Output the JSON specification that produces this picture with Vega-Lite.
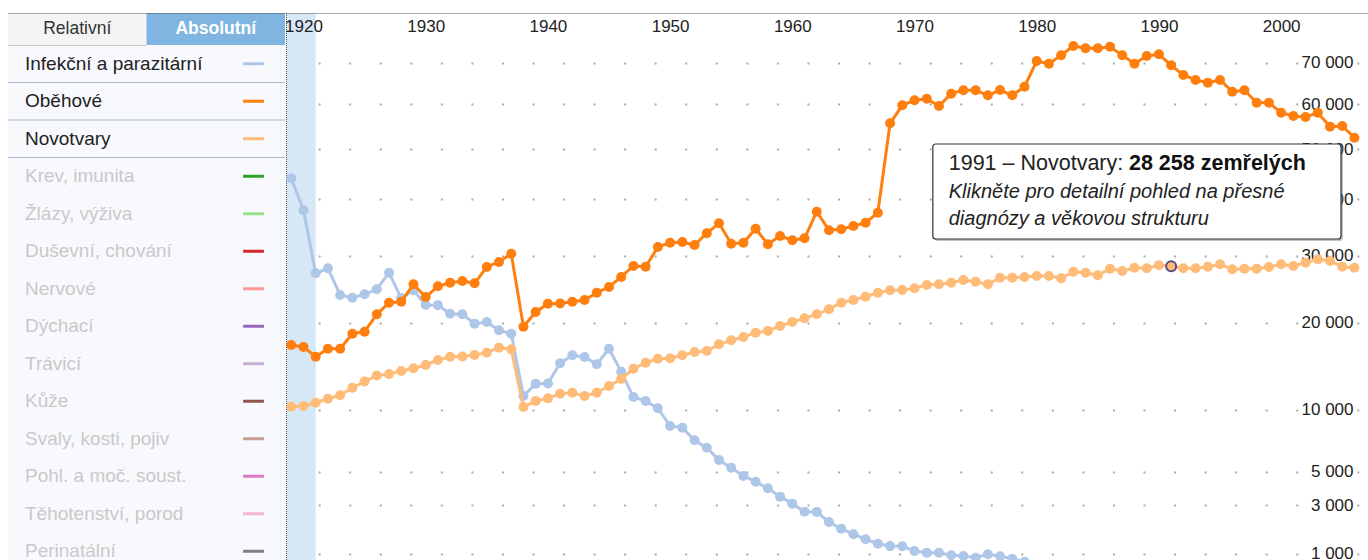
{
  "$schema": "https://vega.github.io/schema/vega-lite/v6.json",
  "background": "white",
  "padding": {"left": 0, "top": 12, "right": 0, "bottom": 0},
  "spacing": -3,
  "config": {"view": {"stroke": null}, "font": "Liberation Sans"},
  "resolve": {"scale": {"x": "independent", "y": "independent"}},
  "datasets": {
    "series": [
      {"year":1919,"inf":44040,"obe":17100,"nov":10300},
      {"year":1920,"inf":37900,"obe":16850,"nov":10370},
      {"year":1921,"inf":27150,"obe":15680,"nov":10690},
      {"year":1922,"inf":27940,"obe":16640,"nov":11080},
      {"year":1923,"inf":23870,"obe":16640,"nov":11430},
      {"year":1924,"inf":23470,"obe":18530,"nov":12210},
      {"year":1925,"inf":23970,"obe":18790,"nov":12870},
      {"year":1926,"inf":24710,"obe":21120,"nov":13520},
      {"year":1927,"inf":27250,"obe":22750,"nov":13690},
      {"year":1928,"inf":23380,"obe":22890,"nov":14020},
      {"year":1929,"inf":24560,"obe":25460,"nov":14330},
      {"year":1930,"inf":22420,"obe":23570,"nov":14710},
      {"year":1931,"inf":22400,"obe":25160,"nov":15290},
      {"year":1932,"inf":21200,"obe":25700,"nov":15680},
      {"year":1933,"inf":21120,"obe":25960,"nov":15700},
      {"year":1934,"inf":19840,"obe":25610,"nov":15880},
      {"year":1935,"inf":20070,"obe":28150,"nov":16160},
      {"year":1936,"inf":18970,"obe":28950,"nov":16770},
      {"year":1937,"inf":18530,"obe":30300,"nov":16570},
      {"year":1938,"inf":11360,"obe":19440,"nov":10270},
      {"year":1939,"inf":12630,"obe":21440,"nov":10860},
      {"year":1940,"inf":12650,"obe":22610,"nov":11120},
      {"year":1941,"inf":14900,"obe":22650,"nov":11590},
      {"year":1942,"inf":15840,"obe":22890,"nov":11690},
      {"year":1943,"inf":15640,"obe":23140,"nov":11360},
      {"year":1944,"inf":14790,"obe":24200,"nov":11700},
      {"year":1945,"inf":16640,"obe":25050,"nov":12390},
      {"year":1946,"inf":13950,"obe":26580,"nov":13140},
      {"year":1947,"inf":11250,"obe":28310,"nov":14280},
      {"year":1948,"inf":10860,"obe":28190,"nov":14970},
      {"year":1949,"inf":10150,"obe":31420,"nov":15440},
      {"year":1950,"inf":8530,"obe":32150,"nov":15500},
      {"year":1951,"inf":8380,"obe":32270,"nov":15840},
      {"year":1952,"inf":7320,"obe":31760,"nov":16240},
      {"year":1953,"inf":6730,"obe":33770,"nov":16360},
      {"year":1954,"inf":5810,"obe":35530,"nov":17190},
      {"year":1955,"inf":5260,"obe":31980,"nov":17690},
      {"year":1956,"inf":4710,"obe":32150,"nov":18110},
      {"year":1957,"inf":4340,"obe":34570,"nov":18660},
      {"year":1958,"inf":3940,"obe":31880,"nov":18880},
      {"year":1959,"inf":3460,"obe":33300,"nov":19540},
      {"year":1960,"inf":3080,"obe":32560,"nov":20070},
      {"year":1961,"inf":2670,"obe":32900,"nov":20570},
      {"year":1962,"inf":2660,"obe":37640,"nov":21120},
      {"year":1963,"inf":2190,"obe":34290,"nov":21820},
      {"year":1964,"inf":1900,"obe":34470,"nov":22750},
      {"year":1965,"inf":1680,"obe":35050,"nov":23140},
      {"year":1966,"inf":1490,"obe":35640,"nov":23620},
      {"year":1967,"inf":1330,"obe":37450,"nov":24200},
      {"year":1968,"inf":1250,"obe":55670,"nov":24560},
      {"year":1969,"inf":1245,"obe":59770,"nov":24600},
      {"year":1970,"inf":1090,"obe":60940,"nov":24860},
      {"year":1971,"inf":1040,"obe":61310,"nov":25350},
      {"year":1972,"inf":1035,"obe":59610,"nov":25460},
      {"year":1973,"inf":960,"obe":62500,"nov":25700},
      {"year":1974,"inf":940,"obe":63300,"nov":26110},
      {"year":1975,"inf":890,"obe":63310,"nov":25850},
      {"year":1976,"inf":990,"obe":62120,"nov":25460},
      {"year":1977,"inf":935,"obe":63370,"nov":26470},
      {"year":1978,"inf":860,"obe":62110,"nov":26460},
      {"year":1979,"inf":780,"obe":64170,"nov":26580},
      {"year":1980,"inf":700,"obe":70490,"nov":26730},
      {"year":1981,"obe":69810,"nov":26730},
      {"year":1982,"obe":71940,"nov":26380},
      {"year":1983,"obe":74320,"nov":27400},
      {"year":1984,"obe":73730,"nov":27250},
      {"year":1985,"obe":73720,"nov":26840},
      {"year":1986,"obe":74140,"nov":27880},
      {"year":1987,"obe":71940,"nov":27510},
      {"year":1988,"obe":69810,"nov":28030},
      {"year":1989,"obe":71760,"nov":27940},
      {"year":1990,"obe":72190,"nov":28420},
      {"year":1991,"obe":69410,"nov":28258},
      {"year":1992,"obe":67010,"nov":27940},
      {"year":1993,"obe":65790,"nov":27950},
      {"year":1994,"obe":65130,"nov":28190},
      {"year":1995,"obe":65790,"nov":28580},
      {"year":1996,"obe":62970,"nov":27780},
      {"year":1997,"obe":63300,"nov":27880},
      {"year":1998,"obe":60380,"nov":27870},
      {"year":1999,"obe":60370,"nov":28150},
      {"year":2000,"obe":58070,"nov":28580},
      {"year":2001,"obe":57320,"nov":28310},
      {"year":2002,"obe":57090,"nov":28840},
      {"year":2003,"obe":58070,"nov":29380},
      {"year":2004,"obe":54910,"nov":29110},
      {"year":2005,"obe":55070,"nov":28190},
      {"year":2006,"obe":52490,"nov":28030}
    ],
    "legend": [
      {"label":"Infekční a parazitární","active":true},
      {"label":"Oběhové","active":true},
      {"label":"Novotvary","active":true},
      {"label":"Krev, imunita","active":false},
      {"label":"Žlázy, výživa","active":false},
      {"label":"Duševní, chování","active":false},
      {"label":"Nervové","active":false},
      {"label":"Dýchací","active":false},
      {"label":"Trávicí","active":false},
      {"label":"Kůže","active":false},
      {"label":"Svaly, kosti, pojiv","active":false},
      {"label":"Pohl. a moč. soust.","active":false},
      {"label":"Těhotenství, porod","active":false},
      {"label":"Perinatální","active":false}
    ],
    "buttons": [
      {"label":"Relativní","selected":false},
      {"label":"Absolutní","selected":true}
    ]
  },
  "hconcat": [
    {
      "spacing": 0,
      "resolve": {"scale": {"x": "independent", "y": "independent"}},
      "vconcat": [
        {
          "width": 285,
          "height": 32,
          "data": {"name": "buttons"},
          "layer": [
            {
              "mark": {"type": "rect"},
              "encoding": {
                "x": {"field": "label", "type": "nominal", "sort": null,
                      "scale": {"domain": ["Relativní", "Absolutní"], "range": [8, 285], "paddingInner": 0, "paddingOuter": 0},
                      "axis": {"orient": "top", "title": null, "labels": false, "ticks": false, "tickSize": 0, "domain": true, "domainDash": [1, 1], "domainColor": "#555", "zindex": 1}},
                "color": {"condition": {"test": "datum.selected", "value": "#80b5e2"}, "value": "#f4f4f4"}
              }
            },
            {
              "transform": [{"filter": "!datum.selected"}],
              "mark": {"type": "text", "fontSize": 17.5, "color": "#333"},
              "encoding": {"x": {"field": "label", "type": "nominal", "sort": null}, "text": {"field": "label"}}
            },
            {
              "transform": [{"filter": "datum.selected"}],
              "mark": {"type": "text", "fontSize": 17.5, "fontWeight": "bold", "color": "white"},
              "encoding": {"x": {"field": "label", "type": "nominal", "sort": null}, "text": {"field": "label"}}
            }
          ]
        },
        {
          "width": 285,
          "height": 516,
          "data": {"name": "legend"},
          "layer": [
            {
              "data": {"values": [{}]},
              "mark": {"type": "rect", "color": "#f7f9fc"},
              "encoding": {
                "x": {"datum": 0.028, "type": "quantitative", "scale": {"domain": [0, 1], "nice": false, "zero": false}, "axis": null},
                "x2": {"datum": 1}
              }
            },
            {
              "transform": [{"filter": "datum.active"}],
              "mark": {"type": "rule", "color": "#a9bccd", "strokeWidth": 1, "yOffset": 18.75},
              "encoding": {
                "x": {"datum": 0.028, "type": "quantitative"},
                "x2": {"datum": 1},
                "y": {"field": "label", "type": "nominal", "sort": null,
                      "scale": {"type": "point", "domain": ["Infekční a parazitární","Oběhové","Novotvary","Krev, imunita","Žlázy, výživa","Duševní, chování","Nervové","Dýchací","Trávicí","Kůže","Svaly, kosti, pojiv","Pohl. a moč. soust.","Těhotenství, porod","Perinatální"], "range": [18.75, 506.25], "padding": 0},
                      "axis": null}
              }
            },
            {
              "transform": [{"filter": "datum.label === 'Infekční a parazitární'"}],
              "mark": {"type": "rule", "color": "#c4c4c4", "strokeWidth": 1, "yOffset": -18.25},
              "encoding": {
                "x": {"datum": 0.028, "type": "quantitative"},
                "x2": {"datum": 0.512},
                "y": {"field": "label", "type": "nominal", "sort": null}
              }
            },
            {
              "mark": {"type": "text", "align": "left", "baseline": "middle", "fontSize": 19},
              "encoding": {
                "x": {"datum": 0.0877, "type": "quantitative"},
                "y": {"field": "label", "type": "nominal", "sort": null},
                "text": {"field": "label"},
                "color": {"condition": {"test": "datum.active", "value": "#222"}, "value": "#c9c9c9"}
              }
            },
            {
              "mark": {"type": "rule", "strokeWidth": 3},
              "encoding": {
                "x": {"datum": 0.853, "type": "quantitative"},
                "x2": {"datum": 0.926},
                "y": {"field": "label", "type": "nominal", "sort": null},
                "color": {"field": "label", "type": "nominal", "legend": null,
                          "scale": {"domain": ["Infekční a parazitární","Oběhové","Novotvary","Krev, imunita","Žlázy, výživa","Duševní, chování","Nervové","Dýchací","Trávicí","Kůže","Svaly, kosti, pojiv","Pohl. a moč. soust.","Těhotenství, porod","Perinatální"],
                                    "range": ["#aec7e8","#ff7f0e","#ffbb78","#2ca02c","#98df8a","#d62728","#ff9896","#9467bd","#c5b0d5","#8c564b","#c49c94","#e377c2","#f7b6d2","#7f7f7f"]}}
              }
            }
          ]
        }
      ]
    },
    {
      "width": 1083,
      "height": 548,
      "data": {"name": "series"},
      "layer": [
        {
          "data": {"values": [{}]},
          "mark": {"type": "rect", "color": "#d6e7f6"},
          "encoding": {
            "x": {"datum": 1918.57, "type": "quantitative",
                  "scale": {"domain": [1918.57, 2007.19], "nice": false, "zero": false},
                  "axis": {"orient": "top", "values": [1920,1930,1940,1950,1960,1970,1980,1990,2000], "format": "d", "title": null,
                           "ticks": false, "tickSize": 0, "labelPadding": -13, "labelBaseline": "middle", "labelFontSize": 17,
                           "labelColor": "#222", "labelFlush": false, "labelOverlap": false, "grid": false,
                           "domain": true, "domainDash": [1, 1], "domainColor": "#555", "zindex": 1}},
            "x2": {"datum": 1921.0}
          }
        },
        {
          "data": {"values": [{}]},
          "mark": {"type": "rule", "color": "#555", "strokeDash": [1, 1], "strokeWidth": 1},
          "encoding": {"x": {"datum": 1918.61, "type": "quantitative"}}
        },
        {
          "mark": {"type": "line", "color": "#aec7e8", "strokeWidth": 3, "clip": true,
                   "point": {"filled": true, "size": 100, "color": "#aec7e8", "opacity": 1}},
          "encoding": {
            "x": {"field": "year", "type": "quantitative"},
            "y": {"field": "inf", "type": "quantitative",
                  "scale": {"type": "sqrt", "domain": [800, 83100], "nice": false, "zero": false},
                  "axis": {"orient": "right", "values": [1000,3000,5000,10000,20000,30000,40000,50000,60000,70000], "title": null,
                           "ticks": false, "tickSize": 0, "domain": false, "labelAlign": "right", "labelPadding": -16,
                           "labelBaseline": "middle", "labelFontSize": 17, "labelColor": "#222", "labelOverlap": false, "labelFlush": false,
                           "labelExpr": "replace(format(datum.value, ','), ',', ' ')",
                           "grid": true, "gridDash": [2, 28.55], "gridDashOffset": 20.4, "gridColor": "#aaaaaa", "gridWidth": 2}}
          }
        },
        {
          "mark": {"type": "line", "color": "#ffbb78", "strokeWidth": 3,
                   "point": {"filled": true, "size": 100, "color": "#ffbb78", "opacity": 1}},
          "encoding": {
            "x": {"field": "year", "type": "quantitative"},
            "y": {"field": "nov", "type": "quantitative"}
          }
        },
        {
          "mark": {"type": "line", "color": "#ff7f0e", "strokeWidth": 3,
                   "point": {"filled": true, "size": 100, "color": "#ff7f0e", "opacity": 1}},
          "encoding": {
            "x": {"field": "year", "type": "quantitative"},
            "y": {"field": "obe", "type": "quantitative"}
          }
        },
        {
          "transform": [{"filter": "datum.year === 1991"}],
          "mark": {"type": "point", "filled": true, "fill": "#ffbb78", "stroke": "#5b4b8b", "strokeWidth": 2, "size": 100, "opacity": 1},
          "encoding": {
            "x": {"field": "year", "type": "quantitative"},
            "y": {"field": "nov", "type": "quantitative"}
          }
        },
        {
          "data": {"values": [{}]},
          "mark": {"type": "rect", "color": "#777", "opacity": 0.45, "cornerRadius": 3, "xOffset": 2, "x2Offset": 2, "yOffset": 2, "y2Offset": 2},
          "encoding": {
            "x": {"datum": 1971.5, "type": "quantitative"}, "x2": {"datum": 2004.9},
            "y": {"datum": 51130, "type": "quantitative"}, "y2": {"datum": 32780}
          }
        },
        {
          "data": {"values": [{}]},
          "mark": {"type": "rect", "fill": "white", "stroke": "#333", "strokeWidth": 1.2, "cornerRadius": 3},
          "encoding": {
            "x": {"datum": 1971.5, "type": "quantitative"}, "x2": {"datum": 2004.9},
            "y": {"datum": 51130, "type": "quantitative"}, "y2": {"datum": 32780}
          }
        },
        {
          "data": {"values": [{}]},
          "mark": {"type": "text", "align": "left", "baseline": "middle", "fontSize": 21.5, "color": "#222", "text": "1991 – Novotvary: "},
          "encoding": {"x": {"datum": 1972.8, "type": "quantitative"}, "y": {"datum": 46930, "type": "quantitative"}}
        },
        {
          "data": {"values": [{}]},
          "mark": {"type": "text", "align": "left", "baseline": "middle", "fontSize": 21.5, "fontWeight": "bold", "color": "#111", "text": "28 258 zemřelých"},
          "encoding": {"x": {"datum": 1987.55, "type": "quantitative"}, "y": {"datum": 46930, "type": "quantitative"}}
        },
        {
          "data": {"values": [{}]},
          "mark": {"type": "text", "align": "left", "baseline": "middle", "fontSize": 20, "fontStyle": "italic", "color": "#222", "text": "Klikněte pro detailní pohled na přesné"},
          "encoding": {"x": {"datum": 1972.8, "type": "quantitative"}, "y": {"datum": 41350, "type": "quantitative"}}
        },
        {
          "data": {"values": [{}]},
          "mark": {"type": "text", "align": "left", "baseline": "middle", "fontSize": 20, "fontStyle": "italic", "color": "#222", "text": "diagnózy a věkovou strukturu"},
          "encoding": {"x": {"datum": 1972.8, "type": "quantitative"}, "y": {"datum": 36300, "type": "quantitative"}}
        }
      ]
    }
  ]
}
